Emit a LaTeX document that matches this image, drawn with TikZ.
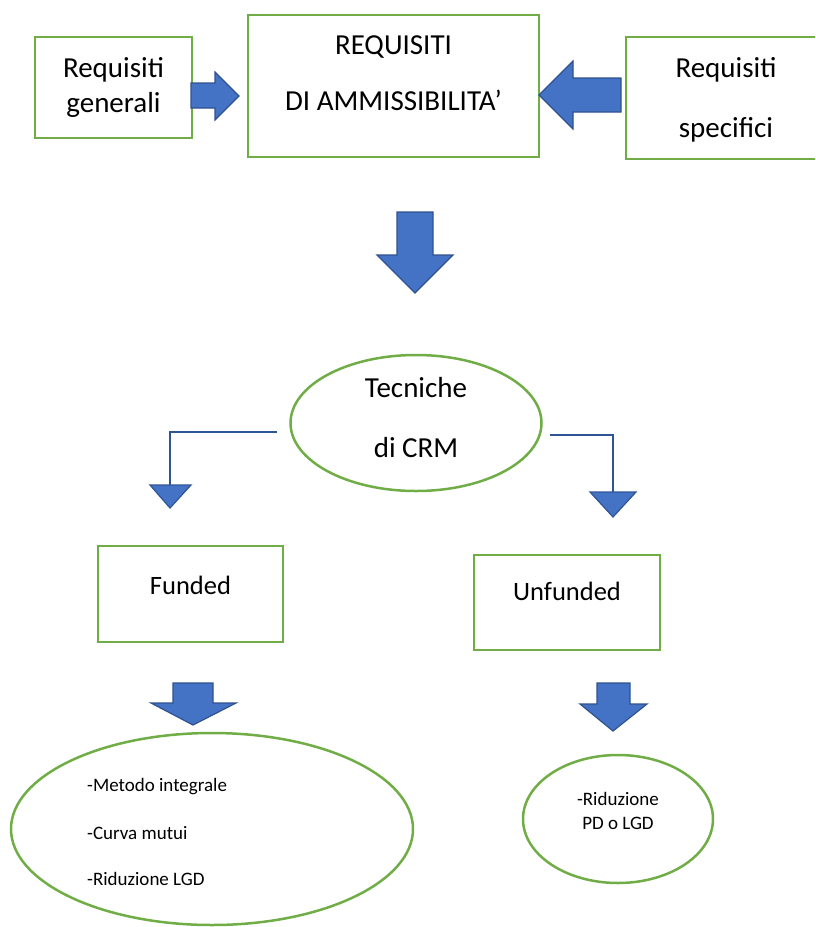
\documentclass[tikz,border=0pt]{standalone}
\usepackage{fontspec}
\setmainfont{Carlito}
\usetikzlibrary{shapes.geometric}
\definecolor{grn}{HTML}{70AD47}
\definecolor{bfill}{HTML}{4472C4}
\definecolor{bline}{HTML}{2F528F}
\definecolor{cline}{HTML}{2F5597}
\tikzset{
  gbox/.style={draw=grn, line width=2.5pt, fill=white, inner sep=0pt},
  gell/.style={draw=grn, line width=2.5pt, ellipse, inner sep=0pt},
  blk/.style={fill=bfill, draw=bline, line width=1.2pt, line join=miter},
  elbow/.style={draw=cline, line width=2.8pt},
  big/.style={font=\fontsize{29}{33}\selectfont, inner sep=0pt},
  mid/.style={font=\fontsize{26.5}{30}\selectfont, inner sep=0pt},
  small/.style={font=\fontsize{19}{22}\selectfont, inner sep=0pt},
}
\begin{document}
\begin{tikzpicture}[x=1pt,y=-1pt]
\useasboundingbox (0,0) rectangle (815,927);
\clip (0,0) rectangle (815,927);
% top boxes
\node[gbox, minimum width=157pt, minimum height=101pt] (ga) at (113.5,87.5) {};
\node[big] (ga1) at (113.5,70) {Requisiti};
\node[big] (ga2) at (113.5,105) {generali};
\node[gbox, minimum width=291pt, minimum height=142pt] (gc) at (393.5,86) {};
\node[big] (gc1) at (393.5,47) {REQUISITI};
\node[big] (gc2) at (393.5,100) {DI AMMISSIBILITA’};
\node[gbox, minimum width=200pt, minimum height=122pt] (gs) at (726,98) {};
\node[big] (gs1) at (726,70) {Requisiti};
\node[big] (gs2) at (726,130) {specifici};
% block arrows top
\path[blk] (191,83) -- (215,83) -- (215,72) -- (239,96) -- (215,120) -- (215,108) -- (191,108) -- cycle;
\path[blk] (621,78) -- (573,78) -- (573,61) -- (539,95) -- (573,129) -- (573,112) -- (621,112) -- cycle;
\path[blk] (397,212) -- (433,212) -- (433,255) -- (453,255) -- (415,293) -- (377,255) -- (397,255) -- cycle;
% CRM ellipse
\node[gell, minimum width=251pt, minimum height=136pt] (crm) at (416,423) {};
\node[big] (crm1) at (416,388) {Tecniche};
\node[big] (crm2) at (416,448) {di CRM};
% elbows
\coordinate (l0) at (277,432);
\coordinate (l1) at (170,486);
\coordinate (r0) at (550,435);
\coordinate (r1) at (613,493);
\draw[elbow] (l0) -| (l1);
\draw[elbow] (r0) -| (r1);
\path[blk, draw=cline] (150,485) -- (191,485) -- (170,508) -- cycle;
\path[blk, draw=cline] (590,492) -- (636,492) -- (613,517) -- cycle;
% funded / unfunded
\node[gbox, minimum width=185pt, minimum height=96pt] (fu) at (190.5,594) {};
\node[mid] (fu1) at (190.5,585) {Funded};
\node[gbox, minimum width=186pt, minimum height=95pt] (un) at (567,602.5) {};
\node[mid] (un1) at (567,591) {Unfunded};
% bottom arrows
\path[blk] (173,683) -- (213,683) -- (213,703) -- (236,703) -- (193,725) -- (151,703) -- (173,703) -- cycle;
\path[blk] (597,683) -- (630,683) -- (630,704) -- (647,704) -- (613,731) -- (580,704) -- (597,704) -- cycle;
% bottom ellipses
\node[gell, minimum width=402pt, minimum height=192pt] (fe) at (212,829) {};
\node[small, anchor=west] (fe1) at (87,787) {-Metodo integrale};
\node[small, anchor=west] (fe2) at (87,833) {-Curva mutui};
\node[small, anchor=west] (fe3) at (87,879) {-Riduzione LGD};
\node[gell, minimum width=190pt, minimum height=128pt] (ue) at (618,819) {};
\node[small] (ue1) at (618,799) {-Riduzione};
\node[small] (ue2) at (618,823) {PD o LGD};
\end{tikzpicture}
\end{document}
